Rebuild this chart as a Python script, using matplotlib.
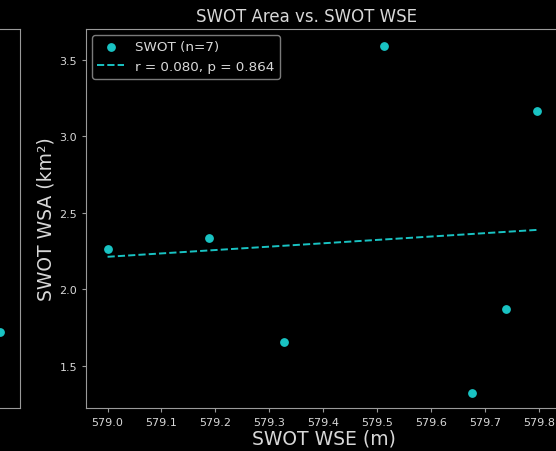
import numpy as np
import matplotlib
matplotlib.use("Agg")
import matplotlib.pyplot as plt

# --------- dados ---------
swot_wse = [579.000, 579.188, 579.327, 579.513, 579.676, 579.739, 579.797]
swot_wsa = [2.263, 2.336, 1.658, 3.592, 1.322, 1.868, 3.164]
r_val, p_val = 0.080, 0.864

# painel vizinho (cortado na figura)
left_x = [1.0]
left_y = [1.72]

plt.style.use("dark_background")
plt.rcParams["font.family"] = ["DejaVu Sans"]

fig = plt.figure(figsize=(5.56, 4.52), dpi=100)
W, H = 556, 452

edge = "#9a9a9a"
txt = "#d8d8d8"
cor = "#19c3c3"

# --------- painel da esquerda (parcial) ---------
axl = fig.add_axes([-300 / W, 1 - 409 / H, 320 / W, 379 / H])
axl.scatter(left_x, left_y, s=28, color=cor, zorder=3, clip_on=False)
axl.set_xlim(0.0, 1.068)
axl.set_ylim(1.223, 3.703)
for sp in axl.spines.values():
    sp.set_color(edge)
axl.set_xticks([])
axl.set_yticks([])

# --------- painel principal ---------
ax = fig.add_axes([86 / W, 1 - 409 / H, 476 / W, 379 / H])
ax.scatter(swot_wse, swot_wsa, s=28, color=cor, zorder=3,
           label=f"SWOT (n={len(swot_wse)})")

coef = np.polyfit(swot_wse, swot_wsa, 1)
xs = np.array([min(swot_wse), max(swot_wse)])
ax.plot(xs, np.polyval(coef, xs), "--", color=cor, lw=1.4,
        label=f"r = {r_val:.3f}, p = {p_val:.3f}")

ax.set_xlim(578.960, 579.843)
ax.set_ylim(1.223, 3.703)
ticks_x = np.arange(579.0, 579.85, 0.1)
ax.set_xticks(ticks_x)
ax.set_xticklabels([f"{v:.1f}" for v in ticks_x])
ax.set_yticks([1.5, 2.0, 2.5, 3.0, 3.5])

for sp in ax.spines.values():
    sp.set_color(edge)
ax.tick_params(colors=edge, labelcolor=txt, labelsize=8, length=3)

ax.set_xlabel("SWOT WSE (m)", fontsize=13.5, color=txt, labelpad=1)
ax.set_ylabel("SWOT WSA (km²)", fontsize=13.5, color=txt, labelpad=3)
ax.set_title("SWOT Area vs. SWOT WSE", fontsize=12, color=txt,
             x=(306 - 86) / 476, pad=6)

leg = ax.legend(loc="upper left", fontsize=9.7, frameon=True,
                facecolor="black", edgecolor=edge, labelcolor=txt,
                borderaxespad=0.45)

plt.savefig("out.png", dpi=100, facecolor="black")
